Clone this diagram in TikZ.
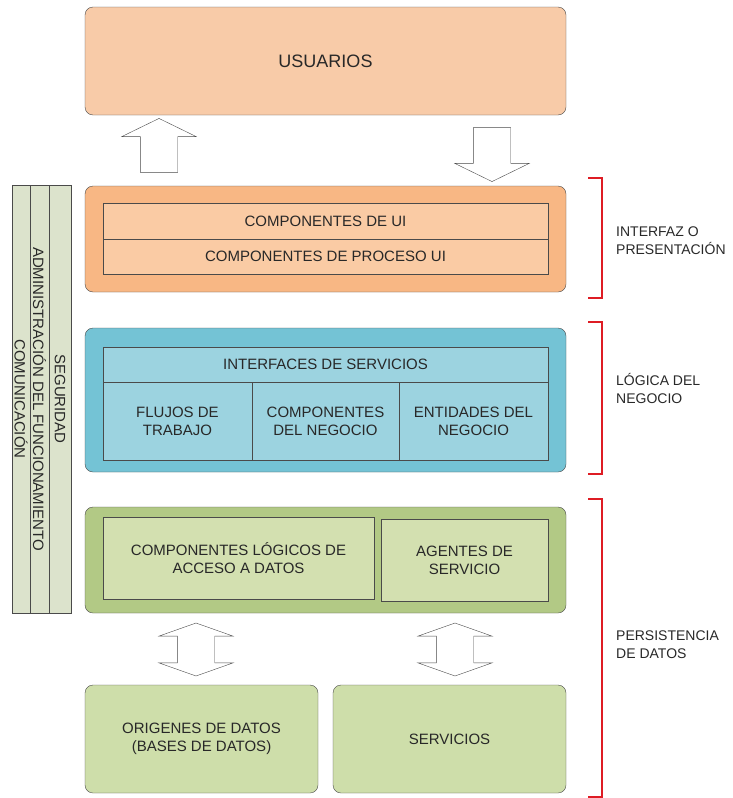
\documentclass[tikz,border=0pt]{standalone}
\usepackage{fontspec}
\setmainfont{Liberation Sans}
\usetikzlibrary{shapes.arrows}
\definecolor{usrPeach}{RGB}{248,203,168}
\definecolor{uiOrange}{RGB}{248,183,132}
\definecolor{uiLight}{RGB}{250,203,164}
\definecolor{bizBlue}{RGB}{116,195,213}
\definecolor{bizLight}{RGB}{156,211,224}
\definecolor{dataGreen}{RGB}{178,201,133}
\definecolor{dataLight}{RGB}{211,224,176}
\definecolor{srcGreen}{RGB}{206,222,170}
\definecolor{barGrey}{RGB}{220,227,204}
\definecolor{edgeGrey}{RGB}{74,74,74}
\definecolor{txtGrey}{RGB}{40,40,40}
\definecolor{brkRed}{RGB}{222,28,36}

\begin{document}
\begin{tikzpicture}[x=1pt,y=-1pt,
    every node/.style={font=\fontsize{15}{18}\selectfont, text=txtGrey, align=center, inner sep=0pt},
    layer/.style={draw=edgeGrey, rounded corners=8pt, minimum width=481pt},
    cell/.style={draw=edgeGrey},
    barcell/.style={draw=edgeGrey, fill=barGrey, rotate=-90, minimum width=428pt},
    uparrow/.style={single arrow, draw=edgeGrey, fill=white, inner xsep=0pt, inner ysep=18.5pt,
      single arrow head extend=18.5pt, single arrow tip angle=128, minimum height=54pt},
    twoarrow/.style={double arrow, draw=edgeGrey, fill=white, inner xsep=0pt, inner ysep=18.5pt,
      double arrow head extend=18.5pt, double arrow tip angle=141, minimum height=53pt},
    bracket/.style={draw=brkRed, line width=2pt},
    sidelabel/.style={anchor=west, align=left, font=\fontsize{14}{18}\selectfont}]

  \clip (0,0) rectangle (733,798);

  % usuarios
  \node[layer, fill=usrPeach, minimum height=108pt, font=\fontsize{18}{21}\selectfont] (usuarios) at (325.5,61) {USUARIOS};

  \node[uparrow, rotate=90] (toUsr) at (159,150) {};
  \node[uparrow, rotate=-90] (fromUsr) at (492,150) {};

  % interfaz
  \node[layer, fill=uiOrange, minimum height=106pt] (uilayer) at (325.5,239) {};
  \node[cell, fill=uiLight, minimum width=445pt, minimum height=36pt] (uicomp) at (325.5,221) {COMPONENTES DE UI};
  \node[cell, fill=uiLight, minimum width=445pt, minimum height=35pt] (uiproc) at (325.5,256.5) {COMPONENTES DE PROCESO UI};

  % negocio
  \node[layer, fill=bizBlue, minimum height=144pt] (bizlayer) at (325.5,400) {};
  \node[cell, fill=bizLight, minimum width=445pt, minimum height=35pt] (srviface) at (325.5,364.5) {INTERFACES DE SERVICIOS};
  \node[cell, fill=bizLight, minimum width=149pt, minimum height=78pt] (flujos) at (177.5,421) {FLUJOS DE\\TRABAJO};
  \node[cell, fill=bizLight, minimum width=147pt, minimum height=78pt] (bizcomp) at (325.5,421) {COMPONENTES\\DEL NEGOCIO};
  \node[cell, fill=bizLight, minimum width=149pt, minimum height=78pt] (entidades) at (473.5,421) {ENTIDADES DEL\\NEGOCIO};

  % datos
  \node[layer, fill=dataGreen, minimum height=106pt] (datalayer) at (325.5,560) {};
  \node[cell, fill=dataLight, minimum width=271pt, minimum height=82pt] (acceso) at (238.5,558) {COMPONENTES LÓGICOS DE\\ACCESO A DATOS};
  \node[cell, fill=dataLight, minimum width=167pt, minimum height=82pt] (agentes) at (464.5,560) {AGENTES DE\\SERVICIO};

  \node[twoarrow, rotate=90] (dbLink) at (196,649.5) {};
  \node[twoarrow, rotate=90] (srvLink) at (455,649.5) {};

  \node[layer, fill=srcGreen, minimum width=233pt, minimum height=108pt] (origenes) at (201.5,739) {ORIGENES DE DATOS\\(BASES DE DATOS)};
  \node[layer, fill=srcGreen, minimum width=233pt, minimum height=108pt] (servicios) at (449.5,739) {SERVICIOS};

  % barras transversales
  \node[barcell, minimum height=18pt] (comunic) at (21,399) {COMUNICACIÓN};
  \node[barcell, minimum height=19pt] (admin) at (39.5,399) {ADMINISTRACIÓN DEL FUNCIONAMIENTO};
  \node[barcell, minimum height=22pt] (segur) at (60,399) {SEGURIDAD};

  % capas
  \draw[bracket] (588,178) -| (602,298) -- (588,298);
  \node[sidelabel] (lblui) at (616,241) {INTERFAZ O\\PRESENTACIÓN};
  \draw[bracket] (588,322) -| (602,474) -- (588,474);
  \node[sidelabel] (lblbiz) at (616,388) {LÓGICA DEL\\NEGOCIO};
  \draw[bracket] (588,499) -| (602,797) -- (588,797);
  \node[sidelabel] (lbldata) at (616,645) {PERSISTENCIA\\DE DATOS};

\end{tikzpicture}
\end{document}
